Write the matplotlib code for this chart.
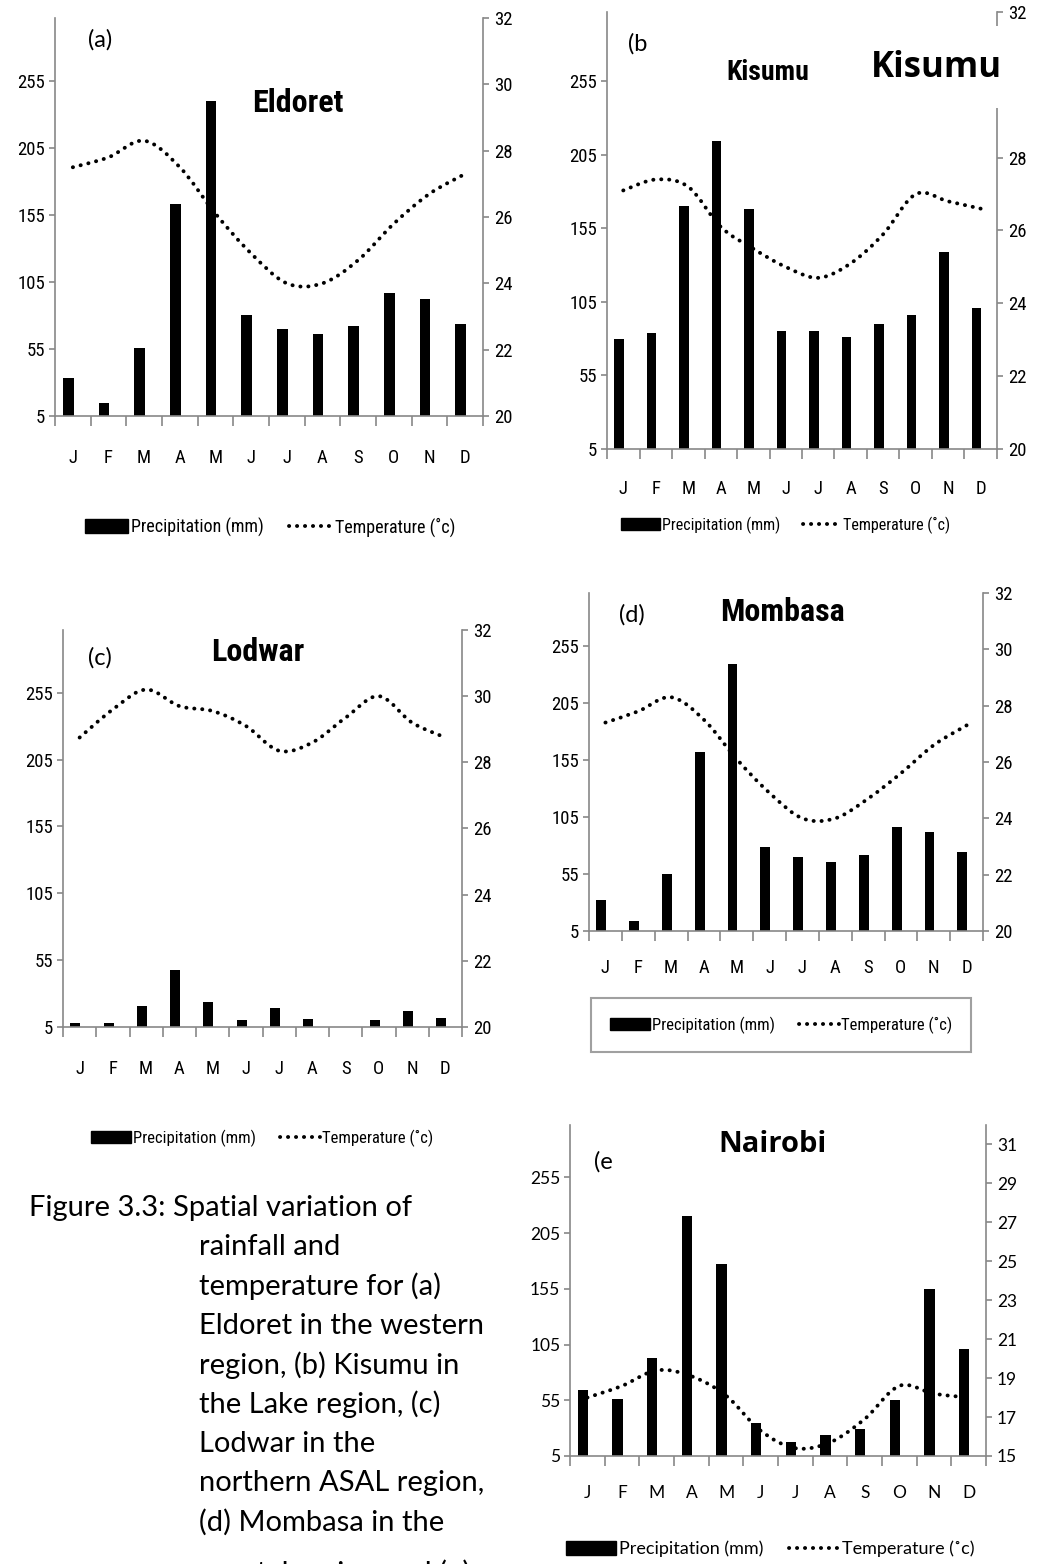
import numpy as np
import matplotlib; matplotlib.use('Agg')
import matplotlib.pyplot as plt
from matplotlib import font_manager
from matplotlib.path import Path
from matplotlib.patches import PathPatch, Patch, Rectangle
from matplotlib.lines import Line2D

W, H = 1039, 1564
months = ['J', 'F', 'M', 'A', 'M', 'J', 'J', 'A', 'S', 'O', 'N', 'D']

eld_rain = [33, 15, 56, 163, 240, 80, 70, 66, 72, 97, 92, 74]
eld_temp = [27.5, 27.8, 28.3, 27.5, 26.1, 24.9, 24.0, 24.0, 24.7, 25.8, 26.7, 27.3]
kis_rain = [80, 84, 170, 214, 168, 85.5, 85.5, 81, 90, 96, 139, 101]
kis_temp = [27.1, 27.4, 27.2, 26.1, 25.5, 25.0, 24.7, 25.1, 25.9, 27.0, 26.8, 26.6]
lod_rain = [8, 8, 21, 48, 24, 10, 19, 11, 3, 10, 17, 12]
lod_temp = [28.75, 29.6, 30.2, 29.7, 29.55, 29.1, 28.35, 28.6, 29.35, 30.0, 29.2, 28.75]
mom_rain = [32, 14, 55, 162.5, 240, 79, 70, 66, 71.5, 96, 92, 74]
mom_temp = [27.4, 27.8, 28.3, 27.5, 26.1, 24.9, 24.0, 24.0, 24.7, 25.6, 26.6, 27.3]
nai_rain = [64, 56, 93, 220, 177, 35, 17.5, 24, 29, 55, 155, 101]
nai_temp = [18.0, 18.6, 19.4, 19.1, 18.1, 16.3, 15.4, 15.7, 16.9, 18.6, 18.2, 18.0]

rain_ticks = [5, 55, 105, 155, 205, 255]
temp_ticks = [20, 22, 24, 26, 28, 30, 32]
nai_temp_ticks = [15, 17, 19, 21, 23, 25, 27, 29, 31]

caption = ['Figure 3.3: Spatial variation of', 'rainfall and', 'temperature for (a)',
           'Eldoret in the western', 'region, (b) Kisumu in', 'the Lake region, (c)',
           'Lodwar in the', 'northern ASAL region,', '(d) Mombasa in the',
           'coastal region and (e)']

installed = {f.name for f in font_manager.fontManager.ttflist}
narrow_pick = [n for n in ('Roboto Condensed', 'Liberation Sans Narrow', 'Open Sans Condensed') if n in installed]
NARROW = (narrow_pick[:1] or ['Roboto']) + ['DejaVu Sans']
CAL = ['Lato', 'DejaVu Sans']
GRAY = '#888888'
DOTS = (0, (0.05, 2.0))

fig = plt.figure(figsize=(W / 100, H / 100), dpi=100)


def smooth_path(x, y):
    # Catmull-Rom style bezier through the monthly points (Excel "smoothed line")
    x = np.asarray(x, float); y = np.asarray(y, float); n = len(x)
    verts = [(x[0], y[0])]; codes = [Path.MOVETO]
    for i in range(n - 1):
        x0, y0 = (x[i - 1], y[i - 1]) if i > 0 else (x[i], y[i])
        x3, y3 = (x[i + 2], y[i + 2]) if i + 2 < n else (x[i + 1], y[i + 1])
        verts += [(x[i] + (x[i + 1] - x0) / 6, y[i] + (y[i + 1] - y0) / 6),
                  (x[i + 1] - (x3 - x[i]) / 6, y[i + 1] - (y3 - y[i]) / 6),
                  (x[i + 1], y[i + 1])]
        codes += [Path.CURVE4] * 3
    return Path(verts, codes)


def panel(box, rain, temp, rlim, rticks, fam, fs, xpad):
    l, t, r, b = box
    ax = fig.add_axes([l / W, 1 - b / H, (r - l) / W, (b - t) / H])
    x = np.arange(12)
    ax.bar(x - 0.13, rain, width=0.3, color='black', zorder=2)
    ax.set_xlim(-0.5, 11.5); ax.set_ylim(5, 302)
    ax.set_yticks(rain_ticks)
    ax.set_xticks(np.arange(-0.5, 12, 1)); ax.set_xticklabels([])
    ax.set_xticks(x, minor=True); ax.set_xticklabels(months, minor=True)
    ax.tick_params(axis='x', which='major', length=7, color=GRAY, width=1.2)
    ax.tick_params(axis='x', which='minor', length=0, pad=xpad, labelsize=fs, labelfontfamily=fam)
    ax.tick_params(axis='y', length=4, color=GRAY, width=1.2, pad=3, labelsize=fs, labelfontfamily=fam)
    ax.spines['top'].set_visible(False); ax.spines['right'].set_visible(False)
    for s in ('left', 'bottom'):
        ax.spines[s].set_color(GRAY); ax.spines[s].set_linewidth(1.2)
    ax2 = ax.twinx()
    ax2.set_ylim(*rlim); ax2.set_yticks(rticks)
    ax2.tick_params(axis='y', length=4, color=GRAY, width=1.2, pad=4, labelsize=fs, labelfontfamily=fam)
    for s in ('top', 'left', 'bottom'):
        ax2.spines[s].set_visible(False)
    ax2.spines['right'].set_color(GRAY); ax2.spines['right'].set_linewidth(1.2)
    ax2.add_patch(PathPatch(smooth_path(x, temp), fill=False, edgecolor='black', lw=2.8,
                            linestyle=DOTS, capstyle='round', zorder=3))
    return ax, ax2


def legend(cx, cy, fam, fs, frame=False, hl=2.4):
    h = [Patch(facecolor='black', edgecolor='black'),
         Line2D([], [], color='black', lw=2.8, ls=DOTS, dash_capstyle='round')]
    leg = fig.legend(h, ['Precipitation (mm)', 'Temperature (˚c)'], loc='center',
                     bbox_to_anchor=(cx / W, 1 - cy / H), ncol=2, frameon=frame,
                     prop={'family': fam, 'size': fs}, handlelength=hl, handleheight=0.8,
                     columnspacing=1.4, handletextpad=0.15, borderpad=0.5, fancybox=False)
    if frame:
        leg.get_frame().set_edgecolor(GRAY); leg.get_frame().set_linewidth(1.5)
        leg.get_frame().set_boxstyle('square', pad=0.6)


def ftext(x, y, s, **kw):
    fig.text(x / W, 1 - y / H, s, ha='center', va='center', **kw)


# (a) Eldoret
panel((55, 18, 483, 416), eld_rain, eld_temp, (20, 32), temp_ticks, NARROW, 13.5, 24)
ftext(100, 40, '(a)', family=CAL, fontsize=17)
ftext(298, 103, 'Eldoret', family=NARROW, fontsize=23, fontweight='bold')
legend(270, 527, NARROW, 13)

# (b) Kisumu
panel((607, 12, 997, 449), kis_rain, kis_temp, (20, 32), temp_ticks, NARROW, 13.5, 22)
ftext(638, 44, '(b', family=CAL, fontsize=17)
ftext(768, 72, 'Kisumu', family=NARROW, fontsize=20, fontweight='bold')
fig.patches.append(Rectangle((868 / W, 1 - 108 / H), 171 / W, 82 / H, transform=fig.transFigure,
                             facecolor='white', edgecolor='none', zorder=5))
ftext(936, 68, 'Kisumu', family=['Open Sans', 'DejaVu Sans'], fontsize=25, fontweight='bold', zorder=6)
legend(786, 525, NARROW, 11.5)

# (c) Lodwar
panel((63, 630, 462, 1027), lod_rain, lod_temp, (20, 32), temp_ticks, NARROW, 13.5, 24)
ftext(100, 658, '(c)', family=CAL, fontsize=17)
ftext(258, 652, 'Lodwar', family=NARROW, fontsize=23, fontweight='bold')
legend(262, 1138, NARROW, 12)

# (d) Mombasa
panel((589, 593, 983, 931), mom_rain, mom_temp, (20, 32), temp_ticks, NARROW, 13.5, 20)
ftext(632, 615, '(d)', family=CAL, fontsize=17)
ftext(782, 612, 'Mombasa', family=NARROW, fontsize=23, fontweight='bold')
legend(781, 1025, NARROW, 12, frame=True)

# (e) Nairobi
panel((570, 1125, 986, 1456), nai_rain, nai_temp, (15, 32), nai_temp_ticks, CAL, 12.5, 21)
ftext(603, 1162, '(e', family=CAL, fontsize=17)
ftext(773, 1145, 'Nairobi', family=['Open Sans', 'DejaVu Sans'], fontsize=21, fontweight='bold')
legend(770, 1549, CAL, 13, hl=2.8)

# caption (last line runs off the bottom edge, as in the source page)
for i, line in enumerate(caption):
    y = 1208 + 39.3 * i if i < len(caption) - 1 else 1573
    fig.text((29 if i == 0 else 199) / W, 1 - y / H, line,
             ha='left', va='center', family=CAL, fontsize=21)

fig.savefig('out.png', dpi=100)
